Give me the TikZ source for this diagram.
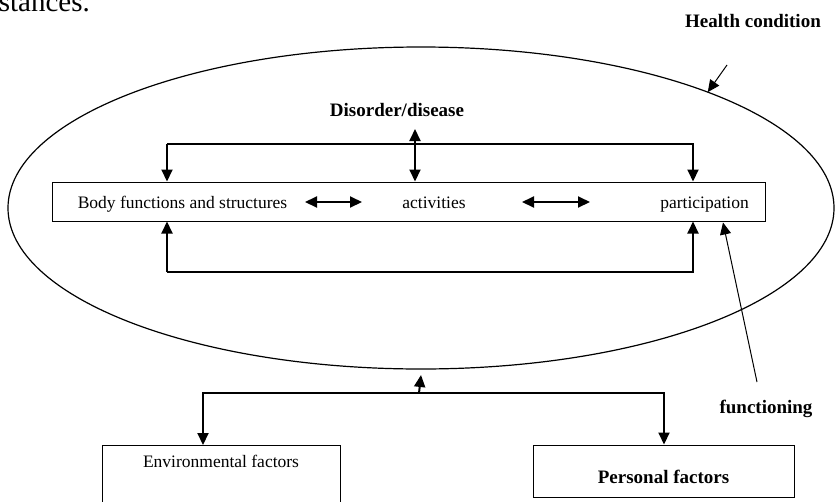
\documentclass[tikz,border=0pt]{standalone}
\usepackage{fontspec}
\setmainfont{Liberation Serif}
\usetikzlibrary{arrows.meta,positioning,shapes.geometric}

\begin{document}
\begin{tikzpicture}[
    x=1pt, y=-1pt,
    txt/.style={inner sep=0pt, font=\fontsize{17.5}{20}\selectfont},
    btxt/.style={inner sep=0pt, font=\fontsize{19}{22}\selectfont\bfseries},
    box/.style={rectangle, draw=black, line width=1pt, inner sep=0pt},
    dep/.style={black, line width=2pt, -{Triangle[length=12pt, width=11pt]}},
    ddep/.style={black, line width=2pt, {Triangle[length=12pt, width=11pt]}-{Triangle[length=12pt, width=11pt]}},
    thin/.style={black, line width=1pt, -{Triangle[length=12pt, width=11pt]}}
  ]

  \useasboundingbox (0,0) rectangle (835,501);

  % fragment of the running text above
  \node (frag) [anchor=base east, inner sep=0pt, font=\fontsize{29}{32}\selectfont] at (90,11) {stances.};

  % health condition ellipse
  \node (hc) [ellipse, draw=black, line width=1.2pt, inner sep=0pt, outer sep=0pt,
              minimum width=826pt, minimum height=322pt] at (421,208) {};

  \node (hclab) [btxt, anchor=base] at (753,27)  {Health condition};
  \node (dis)   [btxt, anchor=base] at (397,116) {Disorder/disease};

  % the three domains
  \node (domains) [box, minimum width=713pt, minimum height=39pt] at (408.5,201.5) {};
  \node (body)    [txt, anchor=base] at (182.5,208) {Body functions and structures};
  \node (activ)   [txt, anchor=base] at (434,208)   {activities};
  \node (partic)  [txt, anchor=base] at (704.5,208) {participation};

  \node (funct)   [btxt, anchor=base] at (766,413) {functioning};

  % contextual factors
  \node (env)  [box, anchor=north, minimum width=238pt, minimum height=90pt] at (221,445) {};
  \node (envlab) [txt, anchor=base] at (221,467) {Environmental factors};
  \node (pers) [box, minimum width=261pt, minimum height=52pt] at (663.5,471) {};
  \node (perslab) [btxt, anchor=base] at (663.5,483) {Personal factors};

  % helper points
  \coordinate (upL)  at (167,144);
  \coordinate (upR)  at (693,144);
  \coordinate (loL)  at (167,272);
  \coordinate (loR)  at (693,272);
  \coordinate (distop) at (415,129);
  \coordinate (hcfrom) at (727,65);
  \coordinate (fnfrom) at (757,382);
  \coordinate (fnx)  at (723,0);
  \coordinate (ctxL) at (203,393);
  \coordinate (ctxM) at (419,393);
  \coordinate (ctxR) at (664,393);

  % connectors
  \draw[thin] (hcfrom) -- (hc.22);

  \draw[dep] (upL) -- (upL |- domains.north);
  \draw[dep] (upL) -- (upR) -- (upR |- domains.north);
  \draw[dep] (loL) -- (loL |- domains.south);
  \draw[dep] (loL) -- (loR) -- (loR |- domains.south);

  \draw[ddep] (distop) -- (distop |- domains.north);

  \draw[ddep] (305,202) -- (362,202);
  \draw[ddep] (522,202) -- (590,202);

  \draw[thin] (fnfrom) -- ([yshift=-1pt]domains.south -| fnx);

  \draw[dep] (ctxM) -- ([yshift=-6pt]hc.south);
  \draw[dep] (ctxM) -- (ctxL) -- (ctxL |- env.north);
  \draw[dep] (ctxM) -- (ctxR) -- (ctxR |- pers.north);

\end{tikzpicture}
\end{document}
